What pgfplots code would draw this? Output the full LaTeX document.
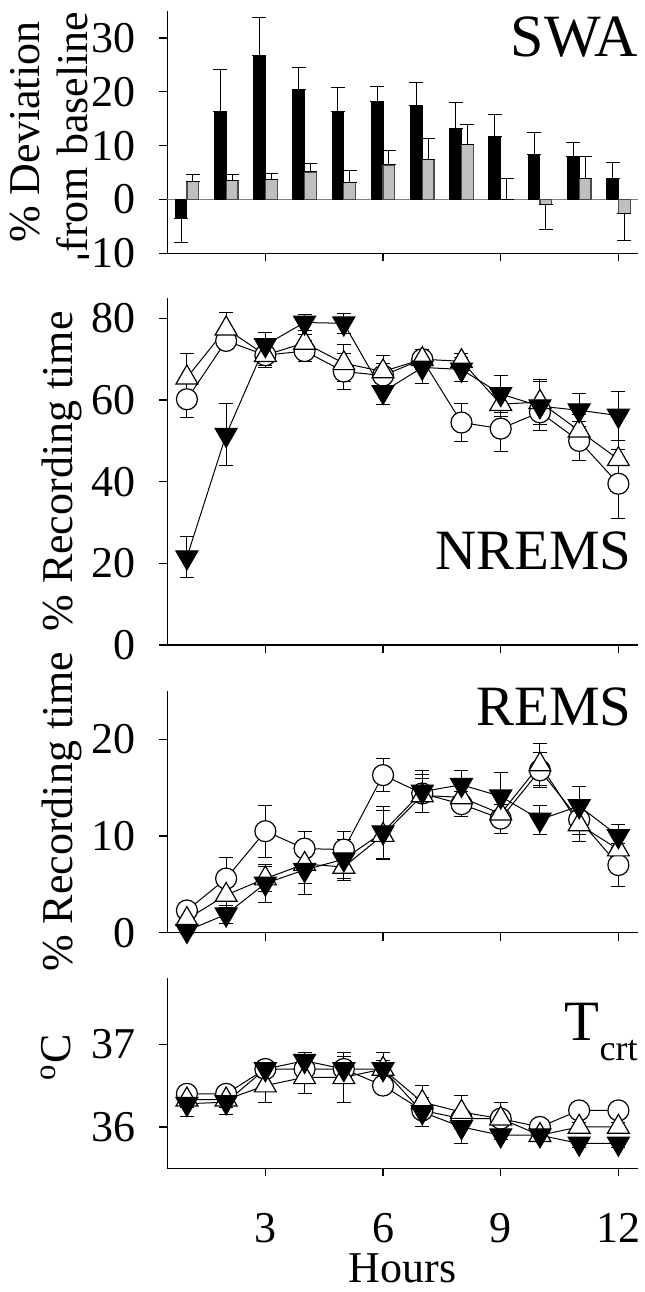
\documentclass[border=0pt]{standalone}
\usepackage{fontspec}
\setmainfont{Liberation Serif}
\usepackage{pgfplots}
\pgfplotsset{compat=1.18}
\usepackage{pgfplotstable}

\newcommand\tk{\fontsize{22}{24}\selectfont}
\newcommand\ttl{\fontsize{28.5}{30}\selectfont}

% SWA: black = first group, gray = second group (value, error up, error down)
\pgfplotstableread{
h  b     bp   bm   g     gp    gm
1  -3.6  0    4.4  3.3   1.4   0
2  16.3  7.9  0    3.5   1.2   0
3  26.7  7.1  0    3.65  1.25  0
4  20.5  4.1  0    5.1   1.6   0
5  16.3  4.5  0    3.15  2.15  0
6  18.2  2.8  0    6.4   2.6   0
7  17.5  4.3  0    7.35  4.05  0
8  13.2  4.9  0    10.2  3.8   0
9  11.7  4.1  0    0.05  3.75  0
10 8.4   4.1  0    -1.0  0     4.6
11 8.0   2.5  0    3.9   4.0   0
12 3.85  2.95 0    -2.65 0     4.95
}\swa

\pgfplotstableread{
h  c     ce   t     te   d     de
1  60.2  4.5  65.5  6.0  21.5  5.0
2  74.5  2.0  77.5  4.0  51.5  7.6
3  71.0  2.5  71.0  3.0  73.5  3.0
4  72.0  2.5  74.0  2.0  79.0  2.0
5  67.0  4.5  69.0  4.5  78.8  2.5
6  66.0  3.0  67.0  4.0  62.0  3.0
7  70.0  2.5  70.0  2.5  68.0  4.0
8  54.5  4.7  69.5  2.0  67.5  3.0
9  53.0  5.5  59.0  3.0  61.5  4.5
10 57.0  3.0  59.5  5.5  58.5  6.0
11 50.0  4.8  52.5  4.0  57.5  4.0
12 39.5  8.5  45.5  4.5  56.2  6.0
}\nrems

\pgfplotstableread{
h  c     ce   t     te   d     de
1  2.3   0.8  1.4   0.5  0.2   0.3
2  5.6   2.2  3.9   1.3  1.9   0.9
3  10.5  2.7  5.6   1.3  5.1   2.0
4  8.7   1.8  7.1   2.0  6.5   2.5
5  8.6   1.9  6.8   1.4  7.6   2.0
6  16.3  1.7  10.1  2.5  10.4  2.7
7  14.4  2.0  14.2  1.8  14.6  2.2
8  13.3  1.3  14.0  1.5  15.3  1.5
9  11.8  1.5  12.3  2.0  14.1  2.5
10 16.8  1.8  17.4  2.2  11.7  1.5
11 11.7  1.5  11.2  1.8  13.1  2.0
12 7.0   2.2  8.6   1.5  10.0  1.2
}\rems

\pgfplotstableread{
h  c     ce    t      te    d      de
1  36.4  0.1   36.33  0.1   36.28  0.15
2  36.4  0.1   36.33  0.1   36.3   0.15
3  36.7  0.1   36.5   0.2   36.7   0.05
4  36.7  0.1   36.6   0.2   36.8   0.1
5  36.7  0.1   36.6   0.3   36.7   0.15
6  36.5  0.1   36.7   0.1   36.7   0.2
7  36.2  0.1   36.3   0.2   36.18  0.18
8  36.1  0.1   36.18  0.2   36.0   0.2
9  36.1  0.1   36.1   0.2   35.9   0.05
10 36.0  0.05  35.9   0.05  35.9   0.05
11 36.2  0.05  36.0   0.05  35.8   0.05
12 36.2  0.05  36.0   0.05  35.8   0.05
}\tcrt

\pgfplotsset{
  panel/.style={
    scale only axis, width=235.35pt, anchor=north west, clip=false,
    xmin=0.5, xmax=12.5,
    axis x line*=bottom, axis y line*=left,
    axis line style={line width=0.75pt},
    tick align=outside, major tick length=4pt,
    tick style={line width=0.6pt, black},
    xtick={3,6,9,12}, xticklabels={},
    ticklabel style={font=\tk},
    yticklabel style={inner sep=0pt, xshift=-11.65pt},
    /pgf/number format/assume math mode=true,
    ylabel style={font=\tk, anchor=south, inner sep=0pt, align=center},
  },
  ebar/.style={error bars/.cd, y dir=both, y explicit,
    error bar style={line width=0.5pt, black},
    error mark options={rotate=90, line width=0.5pt, mark size=3.5pt, black}},
  circ/.style={black, line width=0.5pt, mark=*, mark size=5.25pt,
    mark options={fill=white, line width=0.6pt}, ebar},
  tri/.style={black, line width=0.5pt, mark=triangle*, mark size=6.3pt,
    mark options={fill=white, line width=0.6pt}, ebar},
  dtri/.style={black, line width=0.5pt, mark=triangle*, mark size=6.3pt,
    mark options={fill=black, rotate=180, line width=0.6pt}, ebar},
}

\begin{document}
\begin{tikzpicture}
\useasboundingbox (0,0) rectangle (322pt,-646pt);

% SWA
\begin{axis}[panel, at={(83.65pt,-5.5pt)}, height=121.15pt,
  ymin=-10, ymax=35, ytick={-10,0,10,20,30},
  ylabel={\% Deviation\\from baseline},
  ylabel style={at={([xshift=-39.5pt]axis description cs:0,0.5)}},
  ]
  \draw[black!50, line width=0.6pt] (0.5,0) -- (12.5,0);
  \addplot[ybar, bar width=0.3, bar shift=0pt, fill=black, draw=black, line width=0.5pt, ebar]
    table[x expr=\thisrow{h}-0.15, y=b, y error plus=bp, y error minus=bm] {\swa};
  \addplot[ybar, bar width=0.3, bar shift=0pt, fill=black!25, draw=black!70, line width=0.6pt, ebar]
    table[x expr=\thisrow{h}+0.15, y=g, y error plus=gp, y error minus=gm] {\swa};
  \node[anchor=base east, inner sep=0pt, font=\fontsize{30}{32}\selectfont]
    at ([yshift=-22.85pt]axis description cs:1,1) {SWA};
\end{axis}

% NREMS
\begin{axis}[panel, at={(83.65pt,-149pt)}, height=173.5pt,
  ymin=0, ymax=85, ytick={0,20,40,60,80},
  ylabel={\% Recording time},
  ylabel style={at={([xshift=-42.5pt]axis description cs:0,0.5)}},
  ]
  \addplot[circ] table[x=h, y=c, y error=ce] {\nrems};
  \addplot[tri]  table[x=h, y=t, y error=te] {\nrems};
  \addplot[dtri] table[x=h, y=d, y error=de] {\nrems};
  \node[anchor=base east, inner sep=0pt, font=\ttl]
    at ([xshift=-3pt, yshift=37.85pt]axis description cs:1,0) {NREMS};
\end{axis}

% REMS
\begin{axis}[panel, at={(83.65pt,-345.5pt)}, height=120.85pt,
  ymin=0, ymax=25, ytick={0,10,20},
  ylabel={\% Recording time},
  ylabel style={at={([xshift=-42.5pt]axis description cs:0,0.5)}},
  ]
  \addplot[circ] table[x=h, y=c, y error=ce] {\rems};
  \addplot[tri]  table[x=h, y=t, y error=te] {\rems};
  \addplot[dtri] table[x=h, y=d, y error=de] {\rems};
  \node[anchor=base east, inner sep=0pt, font=\ttl]
    at ([xshift=-3pt, yshift=103.85pt]axis description cs:1,0) {REMS};
\end{axis}

% core temperature
\begin{axis}[panel, at={(83.65pt,-489pt)}, height=95.15pt,
  ymin=35.5, ymax=37.8, ytick={36,37},
  xticklabels={3,6,9,12},
  xticklabel style={inner sep=0pt, yshift=-18.5pt},
  xlabel={Hours},
  xlabel style={font=\tk, inner sep=0pt, anchor=north,
    at={([yshift=-42.5pt]axis description cs:0.5,0)}},
  ylabel={\textsuperscript{o}C},
  ylabel style={at={([xshift=-48pt, yshift=8pt]axis description cs:0,0.5)}},
  ]
  \addplot[circ] table[x=h, y=c, y error=ce] {\tcrt};
  \addplot[tri]  table[x=h, y=t, y error=te] {\tcrt};
  \addplot[dtri] table[x=h, y=d, y error=de] {\tcrt};
  \node[anchor=base east, inner sep=0pt, font=\ttl]
    at ([yshift=64.15pt]axis description cs:1,0)
    {T\raisebox{-10pt}{\fontsize{18}{18}\selectfont crt}};
\end{axis}
\end{tikzpicture}
\end{document}
